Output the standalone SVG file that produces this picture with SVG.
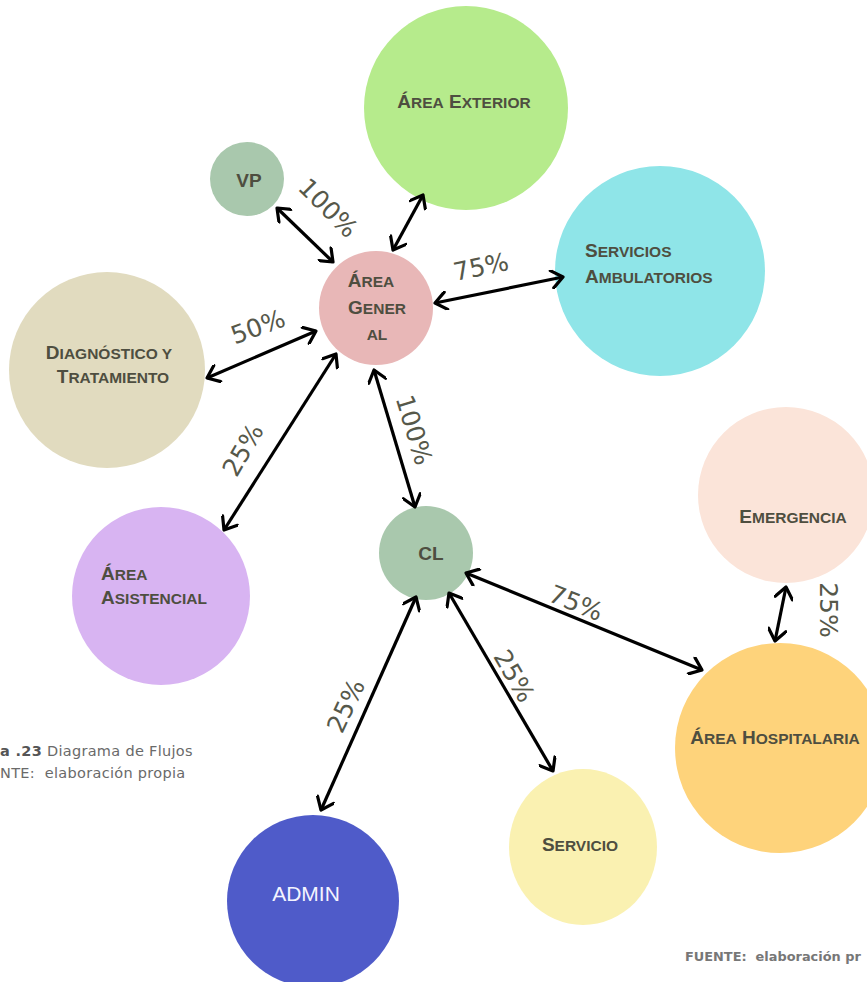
<svg xmlns="http://www.w3.org/2000/svg" width="867" height="982" viewBox="0 0 867 982">
<style>
.n{font-family:"Liberation Sans",Arial,sans-serif;font-weight:bold;font-size:19px;fill:#4e4e40}
.s{font-size:15.5px;text-transform:uppercase}
.p{font-family:"DejaVu Sans",sans-serif;font-size:25px;fill:#56584a}
.c{fill:none;stroke:#000;stroke-width:3.2;marker-start:url(#h);marker-end:url(#h)}
.cap{font-family:"DejaVu Sans",sans-serif;font-size:14.5px;letter-spacing:0.3px;fill:#6a6a6a;white-space:pre}
.src{font-family:"DejaVu Sans",sans-serif;font-size:12.9px;font-weight:bold;fill:#777;white-space:pre}
</style>
<defs>
<marker id="h" viewBox="0 0 12 12" refX="10" refY="6" markerWidth="6" markerHeight="6" orient="auto-start-reverse" markerUnits="strokeWidth">
<path d="M3,0.5 L10,6 L3,11.5" fill="none" stroke="#000" stroke-width="2" stroke-linecap="round" stroke-linejoin="round"/>
</marker>
</defs>
<rect width="867" height="982" fill="#fff"/>
<g id="area-exterior"><circle cx="466" cy="108" r="102" fill="#b6eb8c"/><text class="n" x="464" y="108" text-anchor="middle">Á<tspan class="s">rea</tspan> E<tspan class="s">xterior</tspan></text></g>
<g id="vp"><circle cx="247" cy="179" r="37" fill="#a9c8ad"/><text class="n" x="249" y="187" text-anchor="middle">VP</text></g>
<g id="area-general"><circle cx="376" cy="308" r="57" fill="#e8b7b7"/><text class="n" x="371" y="287" text-anchor="middle">Á<tspan class="s">rea</tspan></text><text class="n" x="377" y="314" text-anchor="middle">G<tspan class="s">ener</tspan></text><text class="n" x="377" y="340" text-anchor="middle"><tspan class="s">al</tspan></text></g>
<g id="servicios-ambulatorios"><circle cx="660" cy="271" r="105" fill="#8fe5e8"/><text class="n" x="585" y="257">S<tspan class="s">ervicios</tspan></text><text class="n" x="585" y="283">A<tspan class="s">mbulatorios</tspan></text></g>
<g id="diagnostico"><circle cx="107" cy="370" r="98" fill="#e1dbbf"/><text class="n" x="109" y="359" text-anchor="middle">D<tspan class="s">iagnóstico y</tspan></text><text class="n" x="113" y="383" text-anchor="middle">T<tspan class="s">ratamiento</tspan></text></g>
<g id="area-asistencial"><circle cx="161" cy="596" r="89" fill="#d8b4f2"/><text class="n" x="101" y="580">Á<tspan class="s">rea</tspan></text><text class="n" x="101" y="604">A<tspan class="s">sistencial</tspan></text></g>
<g id="cl"><circle cx="426" cy="553" r="47" fill="#a9c8ad"/><text class="n" x="431" y="560" text-anchor="middle">CL</text></g>
<g id="emergencia"><circle cx="786" cy="495" r="88" fill="#fbe4d9"/><text class="n" x="793" y="523" text-anchor="middle">E<tspan class="s">mergencia</tspan></text></g>
<g id="area-hospitalaria"><circle cx="780" cy="748" r="105" fill="#fed37b"/><text class="n" x="775" y="744" text-anchor="middle">Á<tspan class="s">rea</tspan> H<tspan class="s">ospitalaria</tspan></text></g>
<g id="servicio"><ellipse cx="583" cy="847" rx="74" ry="78" fill="#faf1b1"/><text class="n" x="580" y="851" text-anchor="middle">S<tspan class="s">ervicio</tspan></text></g>
<g id="admin"><circle cx="313" cy="901" r="86" fill="#4f5bc9"/><text x="306" y="901" text-anchor="middle" font-family="Liberation Sans, Arial, sans-serif" font-size="21" fill="#f4f4ff">ADMIN</text></g>
<g id="connectors">
<line class="c" x1="277" y1="208" x2="333" y2="262"/>
<line class="c" x1="423" y1="195" x2="393" y2="250"/>
<line class="c" x1="435" y1="303" x2="563" y2="277"/>
<line class="c" x1="207" y1="378" x2="316" y2="331"/>
<line class="c" x1="224" y1="530" x2="336" y2="354"/>
<line class="c" x1="374" y1="370" x2="415" y2="507"/>
<line class="c" x1="466" y1="573" x2="702" y2="670"/>
<line class="c" x1="449" y1="593" x2="553" y2="771"/>
<line class="c" x1="416" y1="597" x2="321" y2="810"/>
<line class="c" x1="786" y1="587" x2="775" y2="641"/>
</g>
<g id="labels">
<text class="p" transform="translate(328,208) rotate(45)" text-anchor="middle" dominant-baseline="central">100%</text>
<text class="p" transform="translate(481,267) rotate(-12)" text-anchor="middle" dominant-baseline="central">75%</text>
<text class="p" transform="translate(258,327) rotate(-20)" text-anchor="middle" dominant-baseline="central">50%</text>
<text class="p" transform="translate(243,450) rotate(-60)" text-anchor="middle" dominant-baseline="central">25%</text>
<text class="p" transform="translate(414,430) rotate(73)" text-anchor="middle" dominant-baseline="central">100%</text>
<text class="p" transform="translate(576,603) rotate(22)" text-anchor="middle" dominant-baseline="central">75%</text>
<text class="p" transform="translate(514,676) rotate(60)" text-anchor="middle" dominant-baseline="central">25%</text>
<text class="p" transform="translate(346,706) rotate(-65)" text-anchor="middle" dominant-baseline="central">25%</text>
<text class="p" transform="translate(828,610) rotate(90)" text-anchor="middle" dominant-baseline="central">25%</text>
</g>
<g id="captions">
<text class="cap" x="0" y="756" xml:space="preserve"><tspan font-weight="bold" fill="#555">a .23</tspan> Diagrama de Flujos</text>
<text class="cap" x="0" y="778" xml:space="preserve">NTE:  elaboración propia</text>
<text class="src" x="685" y="961" xml:space="preserve">FUENTE:  elaboración pr</text>
</g>
</svg>
